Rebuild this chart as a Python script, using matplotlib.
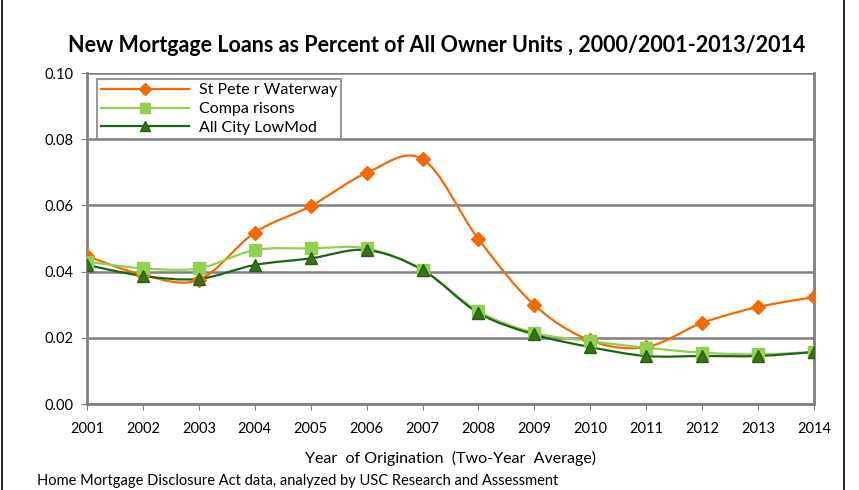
import matplotlib.pyplot as plt
from matplotlib.path import Path
from matplotlib.patches import PathPatch
from matplotlib.lines import Line2D

plt.rcParams['font.family'] = ['Lato', 'DejaVu Sans']

years = [2001, 2002, 2003, 2004, 2005, 2006, 2007, 2008, 2009, 2010, 2011, 2012, 2013, 2014]
st_peter = [0.0447, 0.0390, 0.0375, 0.0518, 0.0598, 0.0698, 0.0740, 0.0498, 0.0299, 0.0192, 0.0172, 0.0245, 0.0293, 0.0323]
comparisons = [0.0430, 0.0410, 0.0410, 0.0465, 0.0470, 0.0470, 0.0405, 0.0280, 0.0215, 0.0190, 0.0170, 0.0155, 0.0150, 0.0157]
all_city = [0.0420, 0.0387, 0.0378, 0.0420, 0.0440, 0.0465, 0.0405, 0.0275, 0.0210, 0.0172, 0.0145, 0.0145, 0.0145, 0.0157]

ORANGE = '#F56A00'
LIGHT = '#92D050'
DARK = '#1E6418'


def smooth_path(xs, ys, t=1 / 6):
    # Catmull-Rom style bezier through the points (like Excel's smoothed line)
    verts = [(xs[0], ys[0])]
    codes = [Path.MOVETO]
    n = len(xs)
    for i in range(n - 1):
        x0, y0 = (xs[i - 1], ys[i - 1]) if i > 0 else (xs[i], ys[i])
        x1, y1 = xs[i], ys[i]
        x2, y2 = xs[i + 1], ys[i + 1]
        x3, y3 = (xs[i + 2], ys[i + 2]) if i + 2 < n else (x2, y2)
        verts += [(x1 + (x2 - x0) * t, y1 + (y2 - y0) * t),
                  (x2 - (x3 - x1) * t, y2 - (y3 - y1) * t),
                  (x2, y2)]
        codes += [Path.CURVE4] * 3
    return Path(verts, codes)


fig = plt.figure(figsize=(8.59, 4.90), dpi=100)
ax = fig.add_axes([0.1013, 0.1755, 0.8463, 0.6755])

series = [
    (st_peter, ORANGE, 'D', ORANGE, ORANGE, 7, 'St Pete r Waterway'),
    (comparisons, LIGHT, 's', LIGHT, LIGHT, 8, 'Compa risons'),
    (all_city, DARK, '^', '#3F6E14', DARK, 8, 'All City LowMod'),
]
handles = []
for vals, col, mk, face, edge, ms, label in series:
    ax.add_patch(PathPatch(smooth_path(years, vals), fill=False, edgecolor=col, lw=1.6, zorder=3))
    ax.plot(years, vals, linestyle='none', marker=mk, markersize=ms,
            markerfacecolor=face, markeredgecolor=edge, zorder=4)
    handles.append(Line2D([], [], color=col, lw=1.6, marker=mk, markersize=ms - 1,
                          markerfacecolor=face, markeredgecolor=edge))

ax.set_xlim(2001, 2014)
ax.set_ylim(0, 0.10)
ax.set_xticks(years)
ax.set_yticks([0.0, 0.02, 0.04, 0.06, 0.08, 0.10])
ax.set_yticklabels(['0.00', '0.02', '0.04', '0.06', '0.08', '0.10'])
ax.grid(axis='y', color='#808080', lw=1.8, zorder=1)
ax.spines['top'].set_visible(False)
for side in ['left', 'right', 'bottom']:
    ax.spines[side].set_color('#808080')
    ax.spines[side].set_linewidth(2)
ax.tick_params(axis='both', direction='out', length=4, color='#808080', labelsize=10.5)
ax.tick_params(axis='x', pad=9)
ax.tick_params(axis='y', pad=6)

ax.set_xlabel('Year  of Origination  (Two-Year  Average)', fontsize=11.5, labelpad=11)

leg = ax.legend(handles, [s[6] for s in series], loc='upper left',
                bbox_to_anchor=(0.014, 0.982), frameon=True, fancybox=False,
                fontsize=11.5, handlelength=5.5, borderpad=0.25, labelspacing=0.3,
                handletextpad=0.6, borderaxespad=0)
leg.get_frame().set_edgecolor('#808080')
leg.get_frame().set_linewidth(1.5)

fig.text(0.508, 0.908, 'New Mortgage Loans as Percent of All Owner Units , 2000/2001-2013/2014',
         ha='center', va='center', fontsize=15.5, fontweight='bold')
fig.text(0.043, 0.004, 'Home Mortgage Disclosure Act data, analyzed by USC Research and Assessment',
         ha='left', va='bottom', fontsize=10.5)

# outer frame lines
fig.add_artist(Line2D([0.002, 0.002], [0, 1], color='black', lw=1.2, transform=fig.transFigure))
fig.add_artist(Line2D([0.983, 0.983], [0, 1], color='black', lw=1.2, transform=fig.transFigure))

fig.savefig('out.png', dpi=100)
